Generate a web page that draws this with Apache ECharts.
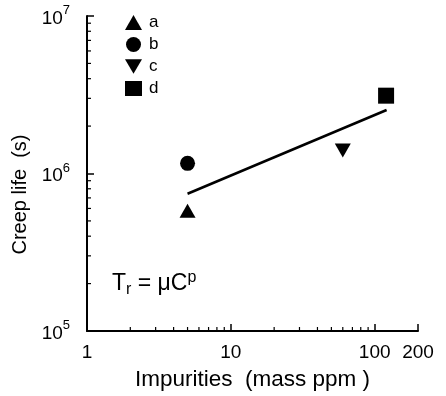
<!DOCTYPE html>
<html>
<head>
<meta charset="utf-8">
<script src="https://cdn.jsdelivr.net/npm/echarts@6/dist/echarts.min.js"></script>
<style>
html, body { margin: 0; padding: 0; background: #fff; }
#main { width: 446px; height: 396px; }
</style>
</head>
<body>
<div id="main"></div>
<script>
var seriesNames = ['a', 'b', 'c', 'd'];
var impurities = [5, 5, 60, 120];
var creepLife = [5.8e5, 1.16e6, 1.4e6, 3.12e6];
var fitX = [5, 121];
var fitY = [7.44e5, 2.53e6];
var xMinorTicks = [2, 3, 4, 5, 6, 7, 8, 9, 20, 30, 40, 50, 60, 70, 80, 90];
var yMinorTicks = [2e5, 3e5, 4e5, 5e5, 6e5, 7e5, 8e5, 9e5, 2e6, 3e6, 4e6, 5e6, 6e6, 7e6, 8e6, 9e6];

var font = 'Liberation Sans, Arial, sans-serif';
var downTriangle = 'path://M0,0L20,0L10,17Z';
var symbols = ['triangle', 'circle', downTriangle, 'rect'];
var sizes = [[16, 14], 15, [16, 14], 16];

var myChart = echarts.init(document.getElementById('main'));

var series = [];
for (var i = 0; i < seriesNames.length; i++) {
    series.push({
        name: seriesNames[i],
        type: 'scatter',
        symbol: symbols[i],
        symbolSize: sizes[i],
        itemStyle: { color: '#000', opacity: 1 },
        data: [[impurities[i], creepLife[i]]]
    });
}

// fitted line
series.push({
    name: 'fit',
    type: 'line',
    showSymbol: false,
    symbol: 'none',
    lineStyle: { color: '#000', width: 2.5 },
    data: [[fitX[0], fitY[0]], [fitX[1], fitY[1]]]
});

// minor ticks, drawn inside the axes
var tickData = [];
xMinorTicks.forEach(function (v) { tickData.push([v, 1e5, 0]); });
yMinorTicks.forEach(function (v) { tickData.push([1, v, 1]); });
series.push({
    name: 'ticks',
    type: 'custom',
    silent: true,
    clip: false,
    data: tickData,
    renderItem: function (params, api) {
        var p = api.coord([api.value(0), api.value(1)]);
        var isY = api.value(2) === 1;
        return {
            type: 'line',
            shape: isY
                ? { x1: p[0], y1: p[1], x2: p[0] + 4, y2: p[1] }
                : { x1: p[0], y1: p[1], x2: p[0], y2: p[1] - 4 },
            style: { stroke: '#000', lineWidth: 1.2 }
        };
    }
});

var option = {
    backgroundColor: '#fff',
    animation: false,
    grid: { left: 87, right: 28, top: 16, bottom: 65, containLabel: false },
    legend: {
        orient: 'vertical',
        left: 120,
        top: 9,
        itemWidth: 17,
        itemHeight: 15,
        itemGap: 5,
        data: seriesNames,
        textStyle: { color: '#000', fontSize: 17, fontFamily: font, padding: [0, 0, 0, 2] }
    },
    xAxis: {
        type: 'log',
        logBase: 10,
        min: 1,
        max: 200,
        name: 'Impurities  (mass ppm )',
        nameLocation: 'middle',
        nameGap: 37,
        nameTextStyle: { color: '#000', fontSize: 22.5, fontFamily: font },
        axisLine: { lineStyle: { color: '#000', width: 2 } },
        axisTick: { inside: true, length: 7, lineStyle: { color: '#000', width: 1.5 } },
        axisLabel: { color: '#000', fontSize: 19, fontFamily: font, margin: 12 },
        splitLine: { show: false }
    },
    yAxis: {
        type: 'log',
        logBase: 10,
        min: 1e5,
        max: 1e7,
        name: 'Creep life  (s)',
        nameLocation: 'middle',
        nameGap: 50,
        nameTextStyle: { color: '#000', fontSize: 20, fontFamily: font, padding: [0, 42, 0, 0] },
        axisLine: { lineStyle: { color: '#000', width: 2 } },
        axisTick: { inside: true, length: 7, lineStyle: { color: '#000', width: 1.5 } },
        axisLabel: {
            margin: 17,
            align: 'right',
            formatter: function (v) {
                var e = Math.round(Math.log(v) / Math.LN10);
                return '{b|10}{s|' + e + '}';
            },
            rich: {
                b: { color: '#000', fontSize: 19, fontFamily: font, lineHeight: 24, verticalAlign: 'bottom' },
                s: { color: '#000', fontSize: 13, fontFamily: font, lineHeight: 24, verticalAlign: 'top' }
            }
        },
        splitLine: { show: false }
    },
    graphic: [{
        type: 'text',
        left: 112,
        top: 270,
        style: {
            text: '{t|T}{sub|r}{t| = μC}{sup|p}',
            rich: {
                t: { fill: '#000', fontSize: 23, fontFamily: font, lineHeight: 28, verticalAlign: 'middle' },
                sub: { fill: '#000', fontSize: 16, fontFamily: font, lineHeight: 28, verticalAlign: 'bottom' },
                sup: { fill: '#000', fontSize: 16, fontFamily: font, lineHeight: 28, verticalAlign: 'top' }
            }
        }
    }],
    series: series
};

myChart.setOption(option);
</script>
</body>
</html>
